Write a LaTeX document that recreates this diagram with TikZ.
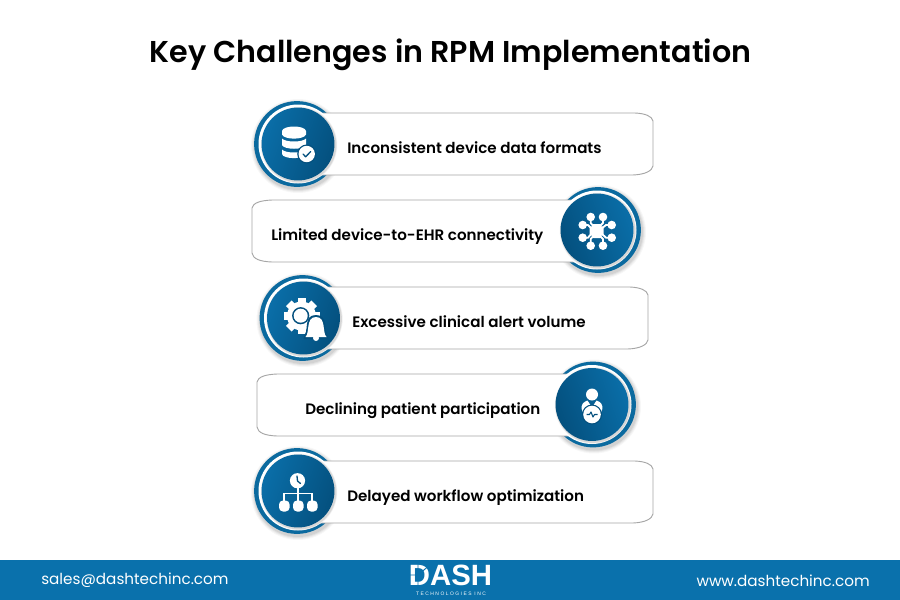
\documentclass[tikz,border=0pt]{standalone}
\usepackage{fontspec}
\setmainfont{Poppins}[BoldFont={Poppins SemiBold}]
\newfontfamily\labelfont{Poppins SemiBold}
\newfontfamily\logofont{Liberation Sans}
\newfontfamily\techfont{Liberation Sans}[LetterSpace=30]
\definecolor{bandblue}{HTML}{0A71AC}
\definecolor{discdark}{HTML}{04507E}
\definecolor{disclight}{HTML}{0A6EA8}
\definecolor{ringblue}{HTML}{0B6A9F}
\definecolor{boxgrey}{HTML}{A6A6A6}
\tikzset{
  x=0.75pt,y=-0.75pt,
  boxline/.style={draw=boxgrey,line width=0.7pt,fill=white},
  labeltext/.style={anchor=base west,inner sep=0pt,font=\labelfont\fontsize{11.33pt}{14pt}\selectfont,text=black},
  footertext/.style={inner sep=0pt,text=white,font=\fontsize{11.4pt}{14pt}\selectfont},
  discleft/.style={circle,minimum size=54.7pt,inner sep=0pt,left color=disclight,right color=discdark,shading angle=70},
  discright/.style={circle,minimum size=54.7pt,inner sep=0pt,left color=discdark,right color=disclight,shading angle=110},
  iconwhite/.style={fill=white,draw=none},
}
\newcommand{\ringback}[2]{%
  \foreach \rr/\oo in {47/.03,46/.04,45/.05,44/.06}{\fill[black,opacity=\oo] (#1+1,#2+2) circle (\rr);}
  \fill[ringblue] (#1,#2) circle (42.9);
}
\newcommand{\ringfront}[2]{%
  \fill[white] (#1,#2) circle (39.5);
  \foreach \rr/\oo in {38.2/.06,37.4/.1}{\fill[black,opacity=\oo] (#1+1,#2+1) circle (\rr);}
}
\begin{document}
\begin{tikzpicture}
\useasboundingbox (0,0) rectangle (900,600);
\fill[white] (0,0) rectangle (900,600);
\node[inner sep=0pt,font=\bfseries\fontsize{22.6pt}{28pt}\selectfont] (title) at (450.5,54.5) {Key Challenges in RPM Implementation};

% row 1
\ringback{297}{144}
\draw[boxline] (298,113) -- (635,113) .. controls (645,113.5) and (652,116) .. (653,121) -- (653,166) .. controls (652,171) and (645,174.5) .. (633,175) -- (298,175);
\ringfront{298}{144}
\node[discleft] (disc1) at (298,144) {};
\node[labeltext] (label1) at (347,153) {Inconsistent device data formats};

% row 2
\ringback{598}{230}
\draw[boxline] (600,200) -- (272,200) .. controls (260,200.5) and (253,203) .. (252,208) -- (252,253) .. controls (253,259) and (260,261.5) .. (272,262) -- (600,262);
\ringfront{597}{230}
\node[discright] (disc2) at (597,230) {};
\node[labeltext] (label2) at (271,240) {Limited device-to-EHR connectivity};

% row 3
\ringback{302.5}{318}
\draw[boxline] (304,287) -- (630,287) .. controls (640,287.5) and (647,290) .. (648,295) -- (648,340) .. controls (647,345) and (640,348.5) .. (628,349) -- (304,349);
\ringfront{303.5}{318}
\node[discleft] (disc3) at (303.5,318) {};
\node[labeltext] (label3) at (352,327) {Excessive clinical alert volume};

% row 4
\ringback{593}{404.5}
\draw[boxline] (595,374) -- (277,374) .. controls (265,374.5) and (258,377) .. (257,382) -- (257,427) .. controls (258,433) and (265,435.5) .. (277,436) -- (595,436);
\ringfront{592}{404.5}
\node[discright] (disc4) at (592,404.5) {};
\node[labeltext] (label4) at (305,414) {Declining patient participation};

% row 5
\ringback{297}{491}
\draw[boxline] (298,461) -- (635,461) .. controls (645,461.5) and (652,464) .. (653,469) -- (653,514) .. controls (652,519) and (645,522.5) .. (633,523) -- (298,523);
\ringfront{298}{491}
\node[discleft] (disc5) at (298,491) {};
\node[labeltext] (label5) at (347,501) {Delayed workflow optimization};

% icon 1: database with check
\fill[iconwhite] (282,149.5) -- (282,154) .. controls (283,159.5) and (305,159.5) .. (306,154) -- (306,149.5) .. controls (303,153.5) and (285,153.5) .. (282,149.5) -- cycle;
\fill[iconwhite] (282,138.5) -- (282,145) .. controls (284,150) and (304,150) .. (306,145) -- (306,138.5) .. controls (303,142.5) and (285,142.5) .. (282,138.5) -- cycle;
\fill[iconwhite] (282,131) -- (282,134.5) .. controls (284,140) and (304,140) .. (306,134.5) -- (306,131) .. controls (305,125) and (283,125) .. (282,131) -- cycle;
\fill[discdark] (306.7,154) circle (9.5);
\fill[white] (306.7,154) circle (8.2);
\draw[discdark,line width=1pt,line cap=round,line join=round] (303,154) -- (305.7,156.8) -- (310.7,151.5);

% icon 2: connected network
\foreach \ax/\ay/\bx/\by/\cx/\cy in {590.7/217/590.7/223/594/227,603/217/603/223/599/227,582.7/225/588/225/592/229,611.7/225/606/225/601/229,582.7/237.7/588/237.7/592/233,611.7/237.7/606/237.7/601/233,590.7/245.7/590.7/239/594/235,603/245.7/603/239/599/235}{
  \draw[white,line width=1.4pt,line join=round] (\ax,\ay) -- (\bx,\by) -- (\cx,\cy);
  \fill[iconwhite] (\ax,\ay) circle (4.3);
}
\fill[iconwhite,rounded corners=1pt] (592,224) rectangle (601.4,238);
\fill[iconwhite,rounded corners=1pt] (589.7,226.3) rectangle (603.7,235.7);

% icon 3: gear, lens, bell
\foreach \a in {0,45,...,315}{\fill[iconwhite,rotate around={\a:(301.5,316)}] (297.5,298) rectangle (305.5,306);}
\fill[iconwhite] (301.5,316) circle (14.5);
\fill[discdark] (300.7,315.7) circle (8.6);
\fill[iconwhite] (300.7,315.7) circle (7);
\fill[discdark] (303.5,339) -- (305,334) .. controls (308.5,330) and (303.5,315) .. (316,315) .. controls (328.5,315) and (323.5,330) .. (327,334) -- (328.5,339) -- cycle;
\fill[iconwhite] (305.5,337) .. controls (310,333) and (305.5,317) .. (316,317) .. controls (326.5,317) and (322,333) .. (326.5,337) -- cycle;
\fill[iconwhite] (316,338) circle (3);

% icon 4: patient with pulse
\fill[iconwhite] (587.5,400.5) .. controls (583,402) and (581,405) .. (581.7,409) .. controls (582,411) and (583,412.5) .. (584.5,414) -- (590.7,405.5) -- cycle;
\fill[iconwhite] (596.5,400.5) .. controls (601,402) and (603,405) .. (602.3,409) .. controls (602,411) and (601,412.5) .. (599.5,414) -- (593.3,405.5) -- cycle;
\fill[iconwhite] (592,394.5) circle (6);
\fill[discdark] (592,414.5) circle (10);
\fill[iconwhite] (592,414.5) circle (8.8);
\draw[discdark,line width=0.8pt,line join=round] (586.5,414.5) -- (589.5,414.5) -- (591,412) -- (593,417) -- (594.5,414.5) -- (597.5,414.5);

% icon 5: clock and hierarchy
\fill[iconwhite] (297.5,480.7) circle (7.6);
\draw[discdark,line width=1pt,line cap=round,line join=round] (297,476) -- (297.5,481) -- (300.5,483.5);
\draw[white,line width=1.4pt] (298,487) -- (298,501) (284.3,501) -- (284.3,493.5) -- (312.3,493.5) -- (312.3,501);
\foreach \xx in {284.3,298.3,312.3}{\fill[iconwhite,rounded corners=3pt] (\xx-5.3,500.5) rectangle (\xx+5.3,511.5);}

% footer
\fill[bandblue] (0,560) rectangle (900,600);
\node[footertext,anchor=west] (mail) at (41,580.5) {sales@dashtechinc.com};
\node[footertext,anchor=east] (web) at (870,580.5) {www.dashtechinc.com};
\node[inner sep=0pt,text=white,font=\logofont\bfseries\fontsize{22pt}{24pt}\selectfont,xscale=1] (logo) at (450.5,575.5) {DASH};
\draw[bandblue,line width=0.7pt] (418,563) -- (418,588) (410,575) -- (418,575) (418,575) -- (431,564);
\node[inner sep=0pt,text=white,font=\techfont\fontsize{3.7pt}{5pt}\selectfont] (tech) at (451,593.8) {TECHNOLOGIES INC};
\end{tikzpicture}
\end{document}
